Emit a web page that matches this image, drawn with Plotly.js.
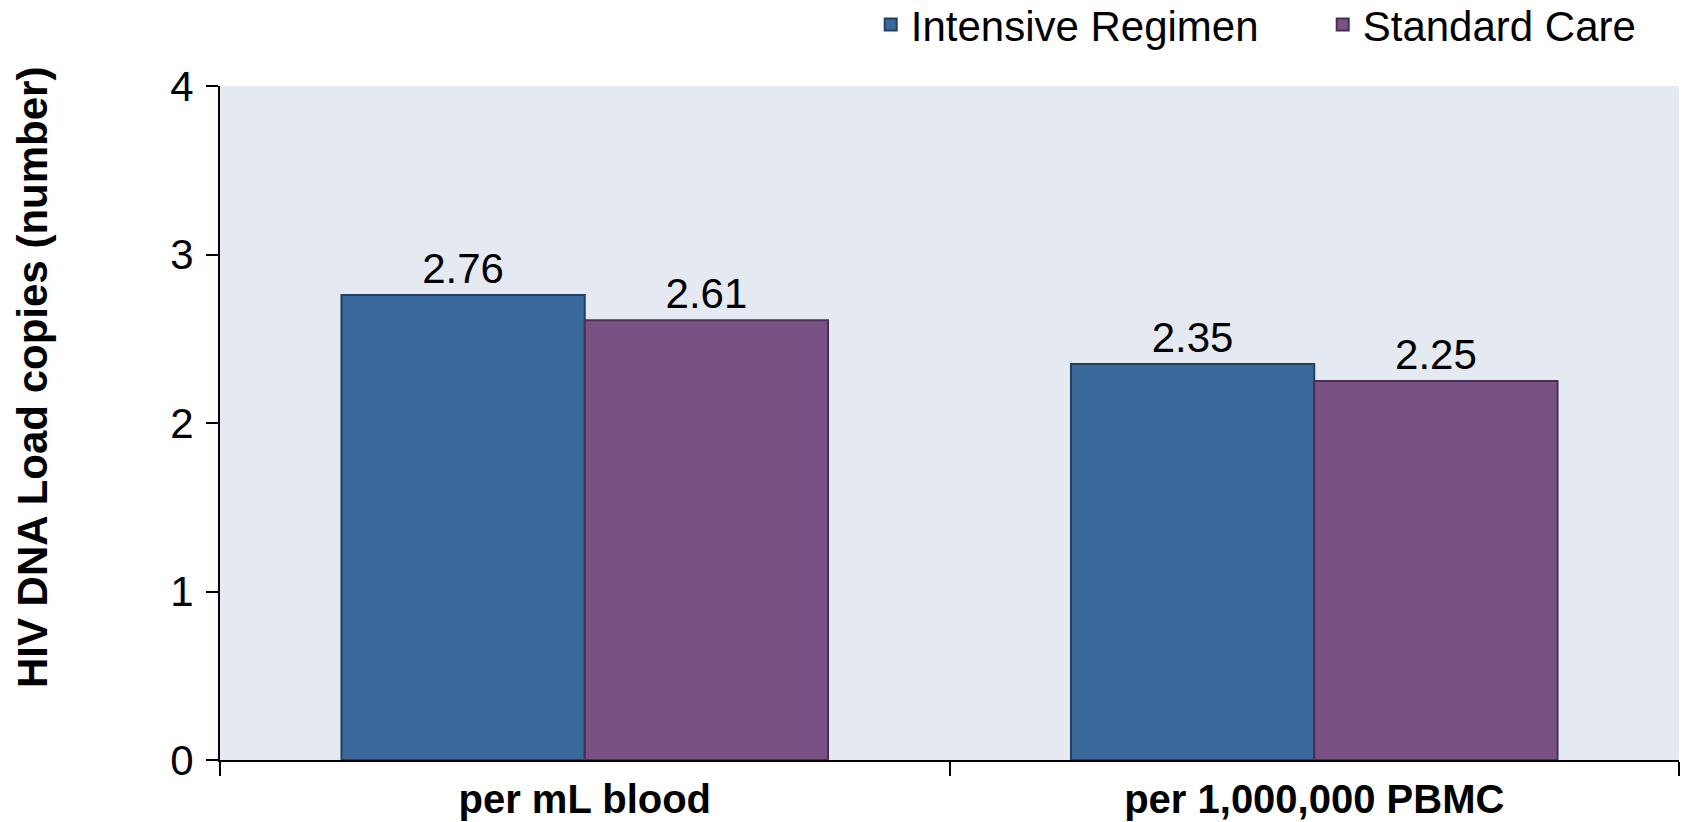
<!DOCTYPE html>
<html>
<head>
<meta charset="utf-8">
<script src="https://cdn.plot.ly/plotly-3.0.1.min.js"></script>
<style>html,body{margin:0;padding:0;background:#fff;}#chart{width:1684px;height:822px;}</style>
</head>
<body>
<div id="chart"></div>
<script>
const categories = ["per mL blood", "per 1,000,000 PBMC"];
const intensiveValues = [2.76, 2.35];
const standardValues = [2.61, 2.25];
const seriesNames = ["Intensive Regimen", "Standard Care"];
const yTickValues = [0, 1, 2, 3, 4];
const yTitle = "HIV DNA Load copies (number)";

const FONT = "Liberation Sans, Arial, sans-serif";

const traces = [
  {
    type: "bar", name: seriesNames[0], x: categories, y: intensiveValues,
    text: intensiveValues.map(v => v.toFixed(2)), textposition: "outside",
    textfont: {family: FONT, size: 42, color: "#000"}, cliponaxis: false,
    marker: {color: "#3a6a9c", line: {color: "#22405f", width: 2}}
  },
  {
    type: "bar", name: seriesNames[1], x: categories, y: standardValues,
    text: standardValues.map(v => v.toFixed(2)), textposition: "outside",
    textfont: {family: FONT, size: 42, color: "#000"}, cliponaxis: false,
    marker: {color: "#795185", line: {color: "#4a2f52", width: 2}}
  }
];

const layout = {
  width: 1684, height: 822,
  margin: {l: 220, r: 5, t: 86, b: 62, autoexpand: false},
  paper_bgcolor: "#ffffff",
  plot_bgcolor: "#e5e9f1",
  barmode: "group", bargap: 0.333, bargroupgap: 0,
  font: {family: FONT, color: "#000"},
  showlegend: true,
  legend: {
    orientation: "h", x: 0.446, xanchor: "left", y: 1.091, yanchor: "middle",
    font: {family: FONT, size: 42, color: "#000"}, entrywidth: 407,
    tracegroupgap: 0, bgcolor: "rgba(0,0,0,0)"
  },
  xaxis: {
    type: "category", showline: true, linecolor: "#000", linewidth: 2,
    ticks: "outside", tickson: "boundaries", ticklen: 14, tickwidth: 2, tickcolor: "#000",
    tickfont: {family: FONT, size: 40, color: "#000", weight: "bold"},
    ticklabelstandoff: 3,
    showgrid: false, zeroline: false, mirror: false
  },
  yaxis: {
    range: [0, 4], tickvals: yTickValues, showline: true, linecolor: "#000", linewidth: 2,
    ticks: "outside", ticklen: 12, tickwidth: 2, tickcolor: "#000",
    tickfont: {family: FONT, size: 42, color: "#000"},
    ticklabelstandoff: 4,
    showgrid: false, zeroline: false
  },
  annotations: [{
    text: yTitle, xref: "paper", yref: "paper", x: -0.1289, y: 0.568,
    xanchor: "center", yanchor: "middle", textangle: -90, showarrow: false,
    font: {family: FONT, size: 42, color: "#000", weight: "bold"}
  }]
};

Plotly.newPlot("chart", traces, layout, {displayModeBar: false, staticPlot: true});
</script>
</body>
</html>
